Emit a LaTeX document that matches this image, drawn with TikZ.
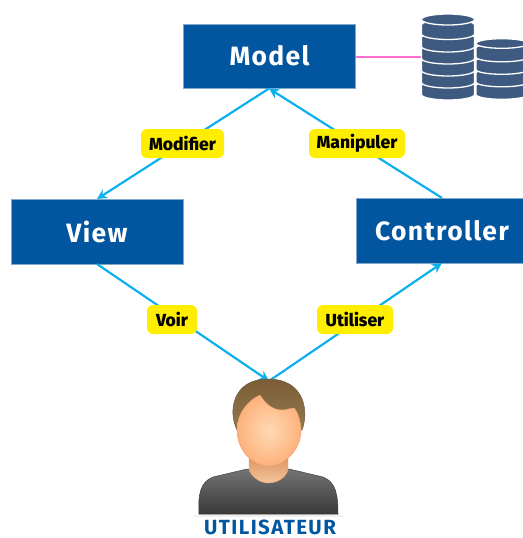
\documentclass[tikz,border=0pt]{standalone}
\usepackage{fontspec}
\setmainfont{Fira Sans}
\newfontfamily\heavyfont{Fira Sans ExtraBold}
\usetikzlibrary{arrows.meta,shadings}
\definecolor{boxblue}{HTML}{02569F}
\definecolor{boxedge}{HTML}{7FA8CC}
\definecolor{linkblue}{HTML}{0DB0EE}
\definecolor{tagyellow}{HTML}{FFEE00}
\definecolor{dbblue}{HTML}{3F5A80}
\definecolor{linkpink}{HTML}{FF6FD0}
\definecolor{hairtop}{HTML}{7A5D36}
\definecolor{hairlow}{HTML}{94794E}
\definecolor{hairedge}{HTML}{6B5A40}
\definecolor{facein}{HTML}{FFD9B5}
\definecolor{faceout}{HTML}{FDB27C}
\definecolor{faceedge}{HTML}{F0A070}
\definecolor{necktop}{HTML}{D9925F}
\definecolor{necklow}{HTML}{F5C59A}
\definecolor{bodytop}{HTML}{747474}
\definecolor{bodylow}{HTML}{383838}
\tikzset{
  boxnode/.style={draw=boxedge,line width=0.5pt,fill=boxblue,text=white,minimum width=172pt,minimum height=64.5pt,inner sep=0pt,font=\fontsize{26.5}{26}\selectfont\bfseries\addfontfeatures{LetterSpace=5}},
  tagnode/.style={fill=tagyellow,rounded corners=6pt,minimum height=29pt,inner sep=0pt,font=\fontsize{17.5}{17}\heavyfont},
  link/.style={draw=linkblue,line width=2.2pt},
  linkarrow/.style={link,-{Stealth[length=10pt,width=10pt]}},
  disk/.style={fill=dbblue,draw=white,line width=1.3pt}
}
\newcommand{\dbstack}[5]{% cx, rx, ry, top centre y, list of ys
  \foreach \yy in {#5} {
    \path[disk] (#1-#2,\yy) -- (#1-#2,\yy+9) arc[start angle=180,end angle=0,x radius=#2,y radius=#3] -- (#1+#2,\yy) arc[start angle=0,end angle=-180,x radius=#2,y radius=#3] -- cycle;
  }
  \path[disk] (#1,#4) ellipse[x radius=#2,y radius=#3];
}
\begin{document}
\begin{tikzpicture}[x=1pt,y=-1pt]
\useasboundingbox (0,0) rectangle (522,538);
\node[boxnode] (model) at (269.5,56) {Model};
\node[boxnode] (view) at (97,231.5) {View};
\node[boxnode] (ctrl) at (442,230.5) {Controller};
\coordinate (dbtop) at (422,56.5);
\coordinate (usr) at (269,381);
\coordinate (mb) at (269,88.5);
\coordinate (vt) at (97,199);
\coordinate (vb) at (97,264);
\coordinate (ct) at (442,198);
\coordinate (cb) at (442,263);
\draw[draw=linkpink,line width=2pt] (model.east |- dbtop) -- (dbtop);
\draw[linkarrow] (vb) -- (usr);
\draw[linkarrow] (usr) -- (cb);
\draw[linkarrow] (ct) -- (mb);
\draw[linkarrow] (mb) -- (vt);
\node[tagnode,minimum width=83pt] (mod) at (182.5,143.5) {Modifier};
\node[tagnode,minimum width=96pt] (man) at (357,143.5) {Manipuler};
\node[tagnode,minimum width=50pt] (voi) at (172,319.5) {Voir};
\node[tagnode,minimum width=76pt] (uti) at (355,319.5) {Utiliser};
% databases
\dbstack{502}{26}{4.8}{43.5}{85.5,73,60.5,48}
\dbstack{448}{26.5}{5.5}{19.5}{85.5,73.5,61.5,49.5,37.5,25}
% user
\fill[black!6] (199,514) -- (338,514) -- (346,517) -- (191,517) -- cycle;
\shade[top color=bodytop,bottom color=bodylow,draw=black!75,line width=0.5pt]
  (199,514) .. controls (198,495) and (200,482) .. (213,477) -- (247,469) -- (289,469) -- (323,477)
  .. controls (336,482) and (338,495) .. (338,514) -- cycle;
\shade[top color=necktop,bottom color=necklow,draw=faceedge,line width=0.4pt]
  (249,455) -- (249,470) .. controls (253,479) and (262,483) .. (268,483) .. controls (276,483) and (285,479) .. (288,470) -- (288,455) -- cycle;
\shade[top color=hairtop,bottom color=hairlow,draw=hairedge,line width=0.5pt]
  (237,430) .. controls (228,412) and (232,379) .. (268,379) .. controls (305,379) and (309,412) .. (302,430) -- cycle;
\shade[inner color=facein,outer color=faceout,draw=faceedge,line width=0.4pt]
  (237,430) .. controls (237,416) and (245,402) .. (260,395) .. controls (265,403) and (272,410) .. (282,410)
  .. controls (287,410) and (290,408) .. (294,408) .. controls (298,412) and (301,422) .. (301,431)
  .. controls (301,450) and (284,466) .. (269,466)
  .. controls (252,466) and (237,450) .. (237,430) -- cycle;
\node[text=boxblue,inner sep=0pt,text depth=0pt,font=\fontsize{20.5}{20.5}\selectfont\bfseries\addfontfeatures{LetterSpace=7},anchor=south] (ulabel) at (270,535) {UTILISATEUR};
\end{tikzpicture}
\end{document}
